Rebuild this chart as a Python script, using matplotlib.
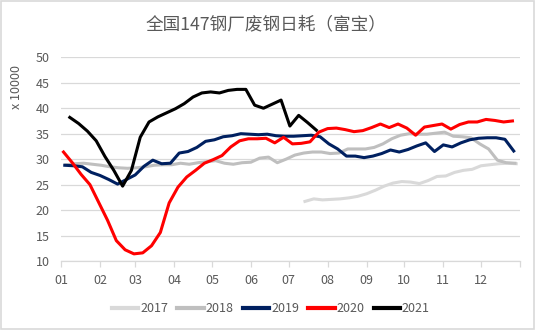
import numpy as np
import matplotlib
matplotlib.use("Agg")
import matplotlib.pyplot as plt
from matplotlib.patches import Rectangle

plt.rcParams['font.family'] = ['Noto Sans CJK SC', 'DejaVu Sans']

# ---------------------------------------------------------------------------
# Data: weekly values (x 10000 t), first report day of year per series
# ---------------------------------------------------------------------------
YEARS = ["2017", "2018", "2019", "2020", "2021"]
START_DAY = {"2017": 5 + 27 * 7, "2018": 4, "2019": 3, "2020": 2, "2021": 7}

V2017 = [21.7, 22.2, 22.0, 22.1, 22.2, 22.4, 22.7, 23.2, 23.9, 24.7, 25.3, 25.6,
         25.5, 25.2, 25.8, 26.6, 26.7, 27.4, 27.8, 28.0, 28.7, 28.9, 29.1, 29.2, 29.1]

V2018 = [28.9, 29.1, 29.2, 29.0, 28.8, 28.5, 28.3, 28.2, 28.3, 28.5, 28.8, 28.9,
         28.9, 29.2, 29.0, 29.3, 29.5, 29.7, 29.2, 29.0, 29.3, 29.4, 30.2, 30.4,
         29.3, 30.0, 30.8, 31.2, 31.4, 31.4, 31.1, 31.2, 32.0, 32.0, 32.0, 32.3,
         33.0, 34.0, 34.7, 35.0, 34.9, 34.9, 35.1, 35.3, 34.5, 34.4, 34.2, 33.0,
         32.0, 29.8, 29.3, 29.2]

V2019 = [28.8, 28.7, 28.5, 27.4, 26.8, 26.0, 25.1, 26.0, 26.9, 28.6, 29.8, 29.1,
         29.2, 31.2, 31.5, 32.3, 33.5, 33.8, 34.4, 34.6, 35.0, 34.9, 34.8, 34.9,
         34.6, 34.5, 34.5, 34.6, 34.7, 34.4, 33.0, 32.0, 30.6, 30.6, 30.3, 30.6,
         31.1, 31.8, 31.4, 31.9, 32.6, 33.2, 31.5, 32.8, 32.4, 33.2, 33.8, 34.1,
         34.2, 34.2, 33.9, 31.6]

V2020 = [31.4, 29.3, 27.0, 25.0, 21.5, 18.0, 14.0, 12.2, 11.4, 11.6, 13.0, 15.6,
         21.4, 24.5, 26.5, 27.8, 29.2, 29.9, 30.7, 32.4, 33.6, 34.0, 34.0, 34.1,
         33.2, 34.3, 33.0, 33.1, 33.4, 35.3, 36.0, 36.1, 35.8, 35.4, 35.6, 36.2,
         36.9, 36.2, 36.9, 36.1, 34.7, 36.3, 36.6, 36.9, 35.9, 36.8, 37.3, 37.3,
         37.8, 37.6, 37.3, 37.5]

V2021 = [38.2, 37.0, 35.5, 33.6, 30.5, 27.8, 24.7, 27.8, 34.3, 37.3, 38.3, 39.1,
         39.9, 40.9, 42.2, 43.0, 43.2, 43.0, 43.5, 43.7, 43.7, 40.6, 40.0, 40.8,
         41.6, 36.5, 38.6, 37.2, 35.7]

VALUES = {"2017": V2017, "2018": V2018, "2019": V2019, "2020": V2020, "2021": V2021}
COLORS = {"2017": "#d9d9d9", "2018": "#bfbfbf", "2019": "#002060",
          "2020": "#ff0000", "2021": "#000000"}

MONTH_LABELS = ["01", "02", "03", "04", "05", "06", "07", "08", "09", "10", "11", "12"]
MONTH_START = [0, 31, 59, 90, 120, 151, 181, 212, 243, 273, 304, 334, 365]

TEXT = "#595959"
GRID = "#d9d9d9"

# ---------------------------------------------------------------------------
# Plot
# ---------------------------------------------------------------------------
fig = plt.figure(figsize=(5.36, 3.30), dpi=100)
ax = fig.add_axes([61 / 536, 1 - 261 / 330, (520 - 61) / 536, (261 - 57.3) / 330])

for y in YEARS:
    vals = np.array(VALUES[y])
    days = START_DAY[y] + 7 * np.arange(len(vals))
    ax.plot(days, vals, color=COLORS[y], lw=2.2, label=y, solid_joinstyle="round")

ax.set_xlim(0, 365)
ax.set_ylim(10, 50)
ax.set_yticks(range(10, 51, 5))
ax.grid(axis="y", color=GRID, lw=0.9)
ax.set_axisbelow(True)

ax.set_xticks(MONTH_START)
ax.set_xticklabels(MONTH_LABELS + [""])

for s in ["top", "right", "left"]:
    ax.spines[s].set_visible(False)
ax.spines["bottom"].set_color(GRID)
ax.spines["bottom"].set_linewidth(0.9)

ax.tick_params(axis="x", colors=GRID, length=4, width=0.9, labelcolor=TEXT,
               labelsize=9, pad=5)
ax.tick_params(axis="y", length=0, labelcolor=TEXT, labelsize=9, pad=8)

fig.text(266 / 536, 1 - 24 / 330, "全国147钢厂废钢日耗（富宝）", ha="center",
         va="center", fontsize=12.7, color=TEXT)
fig.text(17 / 536, 1 - 87 / 330, "x 10000", rotation=90, ha="center",
         va="center", fontsize=9, color=TEXT)

leg = fig.legend(loc="center", bbox_to_anchor=(271 / 536, 1 - 309 / 330), ncol=5,
                 frameon=False, fontsize=9, handlelength=2.1, handletextpad=0.15,
                 columnspacing=0.75)
for t in leg.get_texts():
    t.set_color(TEXT)
for h in leg.get_lines():
    h.set_linewidth(3)

fig.patches.append(Rectangle((0.002, 0.003), 0.995, 0.994, transform=fig.transFigure,
                             fill=False, edgecolor=GRID, lw=1.2))

fig.savefig("out.png", dpi=100)
